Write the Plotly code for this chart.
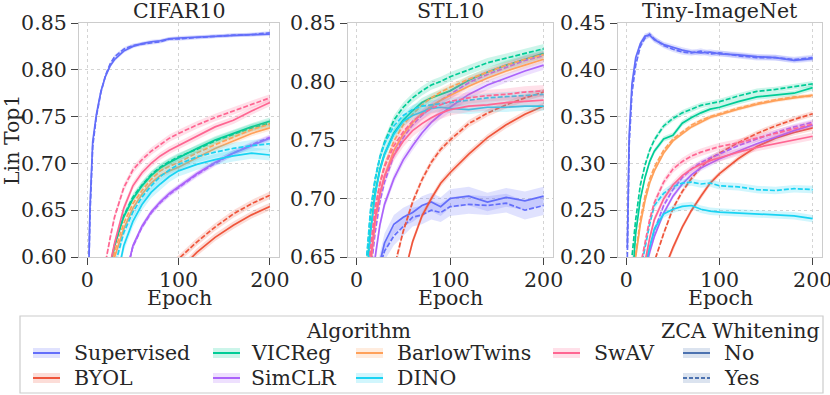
import plotly.graph_objects as go

W, H = 830, 395

epochs = [1, 3, 6, 10, 15, 20, 25, 30, 40, 50, 60, 70, 80, 90, 100, 120, 140, 160, 180, 200]

# ---- CIFAR10 (No ZCA / ZCA) ----
cifar_supervised_no = [0.55, 0.652, 0.723, 0.752, 0.777, 0.793, 0.804, 0.811, 0.820, 0.825, 0.828, 0.830, 0.831, 0.833, 0.834, 0.835, 0.836, 0.837, 0.8375, 0.838]
cifar_supervised_yes = [0.55, 0.645, 0.718, 0.750, 0.776, 0.794, 0.806, 0.814, 0.822, 0.826, 0.8275, 0.829, 0.830, 0.833, 0.833, 0.8345, 0.836, 0.837, 0.8375, 0.8395]
cifar_byol_no = [0.20, 0.25, 0.30, 0.35, 0.39, 0.42, 0.445, 0.465, 0.495, 0.518, 0.537, 0.552, 0.565, 0.576, 0.585, 0.605, 0.621, 0.634, 0.645, 0.654]
cifar_byol_yes = [0.22, 0.27, 0.32, 0.37, 0.41, 0.44, 0.465, 0.485, 0.515, 0.537, 0.555, 0.569, 0.581, 0.590, 0.598, 0.616, 0.632, 0.646, 0.657, 0.666]
cifar_vicreg_no = [0.30, 0.34, 0.39, 0.44, 0.50, 0.55, 0.590, 0.613, 0.643, 0.662, 0.676, 0.687, 0.695, 0.701, 0.706, 0.716, 0.725, 0.732, 0.739, 0.745]
cifar_vicreg_yes = [0.30, 0.34, 0.39, 0.44, 0.50, 0.55, 0.588, 0.612, 0.644, 0.664, 0.677, 0.688, 0.696, 0.702, 0.707, 0.715, 0.724, 0.731, 0.738, 0.743]
cifar_simclr_no = [0.25, 0.29, 0.33, 0.37, 0.41, 0.45, 0.48, 0.51, 0.570, 0.612, 0.633, 0.648, 0.659, 0.668, 0.675, 0.689, 0.701, 0.711, 0.719, 0.727]
cifar_simclr_yes = [0.25, 0.29, 0.33, 0.37, 0.41, 0.45, 0.48, 0.51, 0.572, 0.611, 0.632, 0.647, 0.658, 0.667, 0.674, 0.688, 0.700, 0.711, 0.720, 0.728]
cifar_barlow_no = [0.28, 0.32, 0.37, 0.42, 0.48, 0.53, 0.571, 0.600, 0.630, 0.652, 0.667, 0.679, 0.687, 0.692, 0.696, 0.706, 0.716, 0.724, 0.732, 0.738]
cifar_barlow_yes = [0.28, 0.32, 0.37, 0.42, 0.48, 0.535, 0.578, 0.606, 0.636, 0.657, 0.671, 0.683, 0.692, 0.697, 0.701, 0.711, 0.720, 0.728, 0.736, 0.742]
cifar_dino_no = [0.25, 0.29, 0.34, 0.39, 0.44, 0.49, 0.53, 0.565, 0.612, 0.638, 0.656, 0.669, 0.678, 0.686, 0.692, 0.699, 0.704, 0.708, 0.711, 0.709]
cifar_dino_yes = [0.26, 0.30, 0.35, 0.40, 0.46, 0.51, 0.555, 0.590, 0.626, 0.648, 0.664, 0.676, 0.686, 0.693, 0.699, 0.707, 0.712, 0.716, 0.719, 0.721]
cifar_swav_no = [0.33, 0.37, 0.42, 0.47, 0.52, 0.56, 0.592, 0.615, 0.652, 0.676, 0.690, 0.700, 0.708, 0.714, 0.719, 0.729, 0.739, 0.746, 0.756, 0.765]
cifar_swav_yes = [0.35, 0.40, 0.45, 0.50, 0.55, 0.594, 0.620, 0.643, 0.674, 0.693, 0.704, 0.713, 0.720, 0.727, 0.732, 0.741, 0.749, 0.756, 0.763, 0.770]

# ---- STL10 ----
stl_supervised_no = [0.50, 0.54, 0.57, 0.59, 0.61, 0.625, 0.645, 0.662, 0.678, 0.684, 0.688, 0.694, 0.697, 0.693, 0.700, 0.702, 0.697, 0.701, 0.698, 0.702]
stl_supervised_yes = [0.50, 0.54, 0.57, 0.59, 0.61, 0.625, 0.642, 0.655, 0.668, 0.676, 0.684, 0.686, 0.690, 0.688, 0.693, 0.695, 0.694, 0.696, 0.690, 0.694]
stl_byol_no = [0.30, 0.35, 0.40, 0.45, 0.50, 0.54, 0.57, 0.585, 0.600, 0.632, 0.663, 0.685, 0.700, 0.713, 0.722, 0.738, 0.752, 0.763, 0.772, 0.779]
stl_byol_yes = [0.35, 0.40, 0.45, 0.50, 0.54, 0.565, 0.585, 0.605, 0.640, 0.672, 0.697, 0.716, 0.731, 0.742, 0.750, 0.764, 0.773, 0.780, 0.786, 0.791]
stl_vicreg_no = [0.45, 0.50, 0.555, 0.620, 0.672, 0.705, 0.725, 0.738, 0.756, 0.767, 0.775, 0.782, 0.786, 0.789, 0.792, 0.801, 0.808, 0.814, 0.819, 0.824]
stl_vicreg_yes = [0.46, 0.51, 0.57, 0.638, 0.687, 0.716, 0.735, 0.748, 0.767, 0.778, 0.786, 0.792, 0.797, 0.800, 0.804, 0.810, 0.816, 0.820, 0.824, 0.828]
stl_simclr_no = [0.40, 0.45, 0.50, 0.56, 0.612, 0.650, 0.677, 0.695, 0.717, 0.733, 0.745, 0.756, 0.765, 0.772, 0.778, 0.789, 0.797, 0.803, 0.809, 0.814]
stl_simclr_yes = [0.42, 0.47, 0.52, 0.58, 0.635, 0.671, 0.697, 0.714, 0.737, 0.752, 0.763, 0.771, 0.778, 0.784, 0.789, 0.799, 0.806, 0.812, 0.818, 0.822]
stl_barlow_no = [0.42, 0.47, 0.53, 0.59, 0.642, 0.680, 0.703, 0.719, 0.741, 0.755, 0.765, 0.773, 0.779, 0.784, 0.788, 0.796, 0.803, 0.809, 0.814, 0.819]
stl_barlow_yes = [0.43, 0.48, 0.54, 0.605, 0.655, 0.690, 0.713, 0.728, 0.749, 0.763, 0.772, 0.780, 0.786, 0.791, 0.795, 0.802, 0.808, 0.814, 0.819, 0.823]
stl_dino_no = [0.44, 0.49, 0.55, 0.615, 0.670, 0.703, 0.724, 0.738, 0.755, 0.766, 0.771, 0.774, 0.777, 0.778, 0.777, 0.776, 0.778, 0.778, 0.779, 0.779]
stl_dino_yes = [0.46, 0.51, 0.57, 0.640, 0.690, 0.717, 0.735, 0.747, 0.762, 0.771, 0.776, 0.779, 0.780, 0.781, 0.782, 0.784, 0.786, 0.787, 0.788, 0.789]
stl_swav_no = [0.42, 0.47, 0.53, 0.595, 0.645, 0.683, 0.704, 0.719, 0.737, 0.749, 0.758, 0.764, 0.769, 0.773, 0.776, 0.779, 0.780, 0.782, 0.783, 0.784]
stl_swav_yes = [0.43, 0.48, 0.54, 0.605, 0.657, 0.692, 0.712, 0.727, 0.745, 0.757, 0.766, 0.772, 0.777, 0.780, 0.783, 0.786, 0.788, 0.789, 0.791, 0.792]

# ---- Tiny-ImageNet ----
tiny_supervised_no = [0.21, 0.33, 0.385, 0.413, 0.428, 0.436, 0.437, 0.432, 0.427, 0.424, 0.421, 0.419, 0.418, 0.419, 0.417, 0.416, 0.414, 0.413, 0.410, 0.412]
tiny_supervised_yes = [0.20, 0.32, 0.375, 0.405, 0.425, 0.434, 0.438, 0.433, 0.426, 0.422, 0.419, 0.418, 0.420, 0.417, 0.418, 0.415, 0.413, 0.413, 0.411, 0.413]
tiny_byol_no = [0.05, 0.06, 0.07, 0.085, 0.10, 0.12, 0.14, 0.16, 0.185, 0.210, 0.232, 0.250, 0.265, 0.279, 0.289, 0.305, 0.318, 0.327, 0.333, 0.338]
tiny_byol_yes = [0.06, 0.07, 0.085, 0.10, 0.12, 0.145, 0.17, 0.195, 0.225, 0.252, 0.270, 0.284, 0.296, 0.305, 0.311, 0.322, 0.332, 0.340, 0.347, 0.353]
tiny_vicreg_no = [0.10, 0.13, 0.175, 0.225, 0.262, 0.285, 0.302, 0.313, 0.326, 0.330, 0.343, 0.349, 0.354, 0.358, 0.360, 0.366, 0.371, 0.373, 0.375, 0.381]
tiny_vicreg_yes = [0.12, 0.15, 0.20, 0.24, 0.277, 0.298, 0.314, 0.325, 0.340, 0.348, 0.354, 0.358, 0.362, 0.364, 0.366, 0.372, 0.377, 0.379, 0.382, 0.385]
tiny_simclr_no = [0.06, 0.08, 0.10, 0.12, 0.15, 0.185, 0.205, 0.222, 0.247, 0.265, 0.278, 0.288, 0.295, 0.300, 0.305, 0.313, 0.321, 0.328, 0.335, 0.341]
tiny_simclr_yes = [0.06, 0.08, 0.10, 0.12, 0.15, 0.19, 0.21, 0.228, 0.255, 0.272, 0.285, 0.294, 0.301, 0.306, 0.310, 0.319, 0.326, 0.333, 0.339, 0.344]
tiny_barlow_no = [0.09, 0.12, 0.15, 0.20, 0.235, 0.26, 0.279, 0.292, 0.311, 0.324, 0.332, 0.339, 0.344, 0.349, 0.352, 0.358, 0.363, 0.367, 0.370, 0.373]
tiny_barlow_yes = [0.09, 0.12, 0.155, 0.203, 0.240, 0.265, 0.283, 0.296, 0.314, 0.326, 0.334, 0.341, 0.346, 0.350, 0.353, 0.359, 0.364, 0.368, 0.371, 0.372]
tiny_dino_no = [0.09, 0.10, 0.12, 0.14, 0.16, 0.19, 0.21, 0.23, 0.246, 0.251, 0.254, 0.255, 0.251, 0.249, 0.248, 0.247, 0.246, 0.245, 0.244, 0.241]
tiny_dino_yes = [0.10, 0.12, 0.14, 0.16, 0.185, 0.21, 0.235, 0.255, 0.268, 0.275, 0.279, 0.280, 0.278, 0.279, 0.276, 0.275, 0.272, 0.271, 0.273, 0.272]
tiny_swav_no = [0.07, 0.09, 0.11, 0.13, 0.16, 0.195, 0.22, 0.24, 0.262, 0.277, 0.287, 0.294, 0.299, 0.303, 0.306, 0.312, 0.317, 0.321, 0.325, 0.329]
tiny_swav_yes = [0.08, 0.10, 0.12, 0.15, 0.19, 0.215, 0.24, 0.258, 0.280, 0.294, 0.302, 0.308, 0.312, 0.315, 0.318, 0.322, 0.327, 0.332, 0.337, 0.342]

# half-width of the shaded band, per algorithm (same order as algorithms)
cifar_band = [0.002, 0.004, 0.004, 0.003, 0.003, 0.006, 0.004]
stl_band = [0.008, 0.003, 0.004, 0.004, 0.003, 0.004, 0.005]
tiny_band = [0.003, 0.003, 0.003, 0.003, 0.002, 0.004, 0.004]

algorithms = ["Supervised", "BYOL", "VICReg", "SimCLR", "BarlowTwins", "DINO", "SwAV"]
colors = ["#636EFA", "#EF553B", "#00CC96", "#AB63FA", "#FFA15A", "#19D3F3", "#FF6692"]

datasets = [
    ("CIFAR10", [0.60, 0.85], cifar_band, [
        (cifar_supervised_no, cifar_supervised_yes), (cifar_byol_no, cifar_byol_yes),
        (cifar_vicreg_no, cifar_vicreg_yes), (cifar_simclr_no, cifar_simclr_yes),
        (cifar_barlow_no, cifar_barlow_yes), (cifar_dino_no, cifar_dino_yes),
        (cifar_swav_no, cifar_swav_yes)]),
    ("STL10", [0.65, 0.85], stl_band, [
        (stl_supervised_no, stl_supervised_yes), (stl_byol_no, stl_byol_yes),
        (stl_vicreg_no, stl_vicreg_yes), (stl_simclr_no, stl_simclr_yes),
        (stl_barlow_no, stl_barlow_yes), (stl_dino_no, stl_dino_yes),
        (stl_swav_no, stl_swav_yes)]),
    ("Tiny-ImageNet", [0.20, 0.45], tiny_band, [
        (tiny_supervised_no, tiny_supervised_yes), (tiny_byol_no, tiny_byol_yes),
        (tiny_vicreg_no, tiny_vicreg_yes), (tiny_simclr_no, tiny_simclr_yes),
        (tiny_barlow_no, tiny_barlow_yes), (tiny_dino_no, tiny_dino_yes),
        (tiny_swav_no, tiny_swav_yes)]),
]

FONT = "DejaVu Serif, Liberation Serif, serif"
FS = 20.5
DASH = "5px,2px"


def rgba(hex_color, a):
    h = hex_color.lstrip("#")
    r, g, b = int(h[0:2], 16), int(h[2:4], 16), int(h[4:6], 16)
    return f"rgba({r},{g},{b},{a})"


def px(x):
    return x / W


def py(y):
    return 1 - y / H


# plot areas in pixels (left, right), shared top/bottom
x_domains = [(79, 279), (348, 553), (618, 822)]
top, bottom = 23, 257

fig = go.Figure()

for i, (name, yrange, band, series) in enumerate(datasets):
    sfx = "" if i == 0 else str(i + 1)
    for k, (no_vals, yes_vals) in enumerate(series):
        col = colors[k]
        for vals, dash in ((no_vals, "solid"), (yes_vals, DASH)):
            upper = [v + band[k] for v in vals]
            lower = [v - band[k] for v in vals]
            fig.add_trace(go.Scatter(
                x=epochs + epochs[::-1], y=upper + lower[::-1],
                fill="toself", fillcolor=rgba(col, 0.2),
                line=dict(width=0), mode="lines", hoverinfo="skip",
                showlegend=False, xaxis="x" + sfx, yaxis="y" + sfx,
            ))
            fig.add_trace(go.Scatter(
                x=epochs, y=vals, mode="lines",
                line=dict(color=col, width=1.7, dash=dash),
                name=algorithms[k], showlegend=False,
                xaxis="x" + sfx, yaxis="y" + sfx,
            ))

axis_common = dict(
    showline=True, mirror=True, linecolor="#cccccc", linewidth=1.3,
    ticks="outside", ticklen=7, tickwidth=1.2, tickcolor="#444444",
    showgrid=True, gridcolor="#d4d4d4", griddash="dot", gridwidth=1,
    zeroline=False, automargin=False, ticklabeloverflow="allow",
    tickfont=dict(family=FONT, size=FS, color="#262626"),
)

layout = dict(
    template="none",
    width=W, height=H,
    margin=dict(l=0, r=0, t=0, b=0, autoexpand=False),
    plot_bgcolor="white", paper_bgcolor="white",
    showlegend=False,
)

for i, (name, yrange, band, series) in enumerate(datasets):
    sfx = "" if i == 0 else str(i + 1)
    x0, x1 = x_domains[i]
    layout["xaxis" + sfx] = dict(
        axis_common, domain=[px(x0), px(x1)], range=[-9, 210],
        tickvals=[0, 100, 200], anchor="y" + sfx, ticklabelstandoff=-3,
    )
    layout["yaxis" + sfx] = dict(
        axis_common, domain=[py(bottom), py(top)], range=yrange,
        dtick=0.05, tick0=yrange[0], tickformat=".2f", anchor="x" + sfx,
    )

fig.update_layout(**layout)

annotations = []
shapes = []
for i, (name, yrange, band, series) in enumerate(datasets):
    x0, x1 = x_domains[i]
    cx = px((x0 + x1) / 2)
    annotations.append(dict(text=name, x=cx, y=py(11), xref="paper", yref="paper",
                            xanchor="center", yanchor="middle", showarrow=False,
                            font=dict(family=FONT, size=FS, color="#262626")))
    annotations.append(dict(text="Epoch", x=cx, y=py(298), xref="paper", yref="paper",
                            xanchor="center", yanchor="middle", showarrow=False,
                            font=dict(family=FONT, size=FS, color="#262626")))

annotations.append(dict(text="Lin Top1", x=px(12), y=py((top + bottom) / 2), xref="paper",
                        yref="paper", xanchor="center", yanchor="middle", textangle=-90,
                        showarrow=False, font=dict(family=FONT, size=FS, color="#262626")))

# legend box
shapes.append(dict(type="rect", xref="paper", yref="paper",
                   x0=px(20), x1=px(823), y0=py(393), y1=py(316),
                   line=dict(color="#cccccc", width=1.2), fillcolor="white", layer="above"))

annotations.append(dict(text="Algorithm", x=px(358), y=py(331), xref="paper", yref="paper",
                        xanchor="center", yanchor="middle", showarrow=False,
                        font=dict(family=FONT, size=FS, color="#262626")))
annotations.append(dict(text="ZCA Whitening", x=px(740), y=py(331), xref="paper", yref="paper",
                        xanchor="center", yanchor="middle", showarrow=False,
                        font=dict(family=FONT, size=FS, color="#262626")))

col_handle_x = [33, 213, 356, 553]
col_text_x = [72, 249, 395, 592]
row_y = [353, 378]
legend_slots = [(0, 0), (0, 1), (1, 0), (1, 1), (2, 0), (2, 1), (3, 0)]
legend_order = [0, 1, 2, 3, 4, 5, 6]


def add_handle(hx, hy, color, dash):
    shapes.append(dict(type="rect", xref="paper", yref="paper",
                       x0=px(hx), x1=px(hx + 27), y0=py(hy + 5), y1=py(hy - 5),
                       line=dict(width=0), fillcolor=rgba(color, 0.2), layer="above"))
    shapes.append(dict(type="line", xref="paper", yref="paper",
                       x0=px(hx), x1=px(hx + 27), y0=py(hy), y1=py(hy),
                       line=dict(color=color, width=2, dash=dash), layer="above"))


for k, (c, r) in zip(legend_order, legend_slots):
    add_handle(col_handle_x[c], row_y[r], colors[k], "solid")
    annotations.append(dict(text=algorithms[k], x=px(col_text_x[c]), y=py(row_y[r]),
                            xref="paper", yref="paper", xanchor="left", yanchor="middle",
                            showarrow=False, font=dict(family=FONT, size=FS, color="#262626")))

zca_color = "#4C72B0"
for r, (label, dash) in enumerate([("No", "solid"), ("Yes", "4px,2px")]):
    add_handle(683, row_y[r], zca_color, dash)
    annotations.append(dict(text=label, x=px(722), y=py(row_y[r]), xref="paper", yref="paper",
                            xanchor="left", yanchor="middle", showarrow=False,
                            font=dict(family=FONT, size=FS, color="#262626")))

fig.update_layout(annotations=annotations, shapes=shapes)

fig.write_html("out.html", config={"displayModeBar": False},
               post_script="document.body.style.margin='0px';")
